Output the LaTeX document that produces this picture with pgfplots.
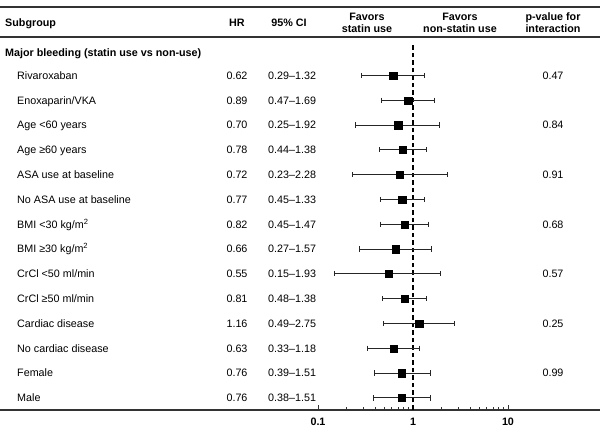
\documentclass[border=0pt]{standalone}
\usepackage{pgfplots}
\pgfplotsset{compat=1.18}
\usepackage{fontspec}
\setmainfont{Liberation Sans}
\definecolor{rule}{HTML}{333333}
\begin{document}
\begin{tikzpicture}[font=\fontsize{10.8}{12.5}\selectfont]
\begin{axis}[
  at={(0,0)}, anchor=south west,
  scale only axis, width=600bp, height=410bp,
  xmode=log, xmin=4.494e-5, xmax=92.99,
  ymin=0, ymax=410,
  axis x line*=bottom, axis y line=none,
  x axis line style={-, line width=1.3bp, color=rule},
  xtick={0.1,1,10}, xticklabels={0.1,1,10},
  minor xtick={0.2,0.3,0.4,0.5,0.6,0.7,0.8,0.9,2,3,4,5,6,7,8,9},
  tick align=inside,
  major tick length=4.5bp, minor tick length=2.5bp,
  every tick/.style={rule, line width=0.9bp},
  xticklabel style={font=\fontsize{10.8}{12.5}\selectfont\bfseries, yshift=-4.5bp},
  clip=false,
]
% dashed reference line at HR = 1
\addplot[black, line width=1.3bp, dash pattern=on 4.5bp off 3bp] coordinates {(1,0) (1,367)};
% confidence intervals
\pgfplotsset{cistyle/.style={black!85, line width=0.9bp, mark=|, mark size=2.6bp, mark options={solid}}}
\addplot[cistyle] coordinates {(0.29,334.5) (1.32,334.5)};
\addplot[cistyle] coordinates {(0.47,309.7) (1.69,309.7)};
\addplot[cistyle] coordinates {(0.25,284.9) (1.92,284.9)};
\addplot[cistyle] coordinates {(0.44,260.1) (1.38,260.1)};
\addplot[cistyle] coordinates {(0.23,235.3) (2.28,235.3)};
\addplot[cistyle] coordinates {(0.45,210.5) (1.33,210.5)};
\addplot[cistyle] coordinates {(0.45,185.7) (1.47,185.7)};
\addplot[cistyle] coordinates {(0.27,160.9) (1.57,160.9)};
\addplot[cistyle] coordinates {(0.15,136.1) (1.93,136.1)};
\addplot[cistyle] coordinates {(0.48,111.3) (1.38,111.3)};
\addplot[cistyle] coordinates {(0.49,86.5) (2.75,86.5)};
\addplot[cistyle] coordinates {(0.33,61.7) (1.18,61.7)};
\addplot[cistyle] coordinates {(0.39,36.9) (1.51,36.9)};
\addplot[cistyle] coordinates {(0.38,12.1) (1.51,12.1)};
% point estimates
\addplot[only marks, mark=square*, mark size=3.6bp, black] coordinates {
(0.62,334.5) (0.89,309.7) (0.70,284.9) (0.78,260.1) (0.72,235.3) (0.77,210.5)
(0.82,185.7) (0.66,160.9) (0.55,136.1) (0.81,111.3) (1.16,86.5) (0.63,61.7)
(0.76,36.9) (0.76,12.1)};
\end{axis}
\begin{scope}[x=1bp, y=-1bp, shift={(0,410bp)}]
\draw[rule, line width=1.3bp] (0,7) -- (600,7);
\draw[rule, line width=1.3bp] (0,37) -- (600,37);
% header
\begin{scope}[every node/.style={inner sep=0pt, font=\fontsize{10.8}{12.5}\selectfont\bfseries}]
\node[anchor=base west] at (5,26.8) {Subgroup};
\node[anchor=base] at (237,26.8) {HR};
\node[anchor=base] at (289,26.8) {95\% CI};
\node[anchor=base] at (367,20.8) {Favors};
\node[anchor=base] at (367,32.8) {statin use};
\node[anchor=base] at (460,20.8) {Favors};
\node[anchor=base] at (460,32.8) {non-statin use};
\node[anchor=base] at (553,20.8) {p-value for};
\node[anchor=base] at (553,32.8) {interaction};
\node[anchor=base west] at (5,56.3) {Major bleeding (statin use vs non-use)};
\end{scope}
\begin{scope}[every node/.style={inner sep=0pt}]
\foreach \py/\lab/\hr/\ci/\p in {
 75.5/{Rivaroxaban}/0.62/{0.29–1.32}/0.47,
 100.3/{Enoxaparin/VKA}/0.89/{0.47–1.69}/{},
 125.1/{Age <60 years}/0.70/{0.25–1.92}/0.84,
 149.9/{Age ≥60 years}/0.78/{0.44–1.38}/{},
 174.7/{ASA use at baseline}/0.72/{0.23–2.28}/0.91,
 199.5/{No ASA use at baseline}/0.77/{0.45–1.33}/{},
 224.3/{BMI <30 kg/m\textsuperscript{2}}/0.82/{0.45–1.47}/0.68,
 249.1/{BMI ≥30 kg/m\textsuperscript{2}}/0.66/{0.27–1.57}/{},
 273.9/{CrCl <50 ml/min}/0.55/{0.15–1.93}/0.57,
 298.7/{CrCl ≥50 ml/min}/0.81/{0.48–1.38}/{},
 323.5/{Cardiac disease}/1.16/{0.49–2.75}/0.25,
 348.3/{No cardiac disease}/0.63/{0.33–1.18}/{},
 373.1/{Female}/0.76/{0.39–1.51}/0.99,
 397.9/{Male}/0.76/{0.38–1.51}/{}}{
 \node[anchor=base west] at (17,\py+3.8) {\lab};
 \node[anchor=base] at (237,\py+3.8) {\hr};
 \node[anchor=base west] at (268,\py+3.8) {\ci};
 \node[anchor=base] at (553,\py+3.8) {\p};
}
\end{scope}
\end{scope}
\pgfresetboundingbox
\useasboundingbox (0,-21bp) rectangle (600bp,410bp);
\end{tikzpicture}
\end{document}
